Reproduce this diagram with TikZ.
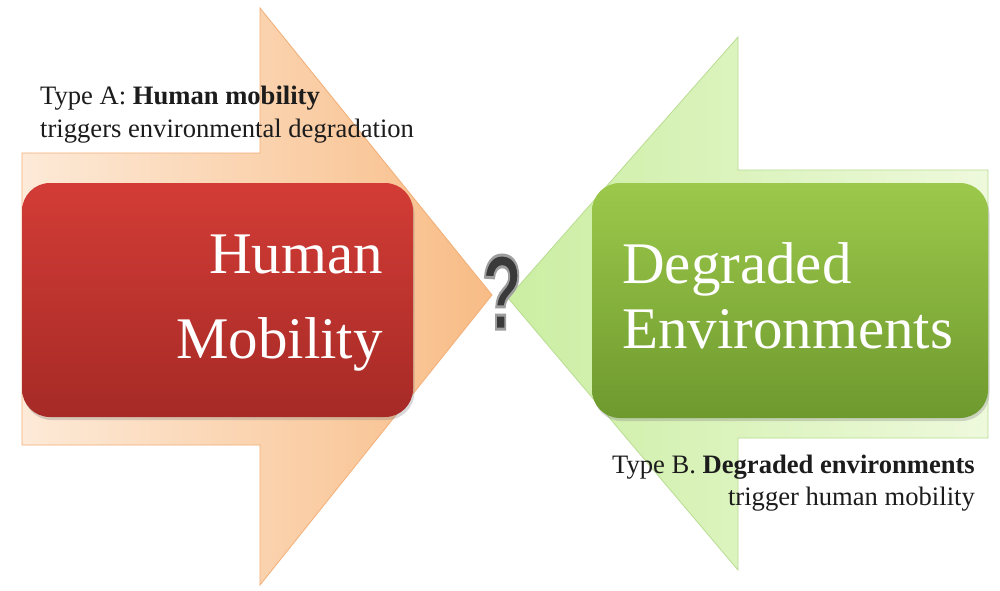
\documentclass[tikz,border=0pt]{standalone}
\usepackage{fontspec}
\setmainfont{Liberation Serif}
\newfontfamily\qfont{Liberation Sans}
\usetikzlibrary{shadows}

\definecolor{peachL}{HTML}{FDEAD8}
\definecolor{peachR}{HTML}{F8BC86}
\definecolor{peachEdge}{HTML}{F2AE76}
\definecolor{limeL}{HTML}{CBEEA2}
\definecolor{limeR}{HTML}{EEF9DC}
\definecolor{limeEdge}{HTML}{B9DC92}
\definecolor{redTop}{HTML}{D33C36}
\definecolor{redBot}{HTML}{A62A26}
\definecolor{grnTop}{HTML}{9CC94B}
\definecolor{grnBot}{HTML}{6E992E}
\definecolor{labelInk}{HTML}{1C1C1C}
\definecolor{qInk}{HTML}{3A3A3A}

% glyph drawn filled in the text colour and stroked with a grey rim
\newcommand{\rimmed}[1]{%
  \special{pdf:code 2 Tr 3 w 0.62 0.62 0.62 RG}#1\special{pdf:code 0 Tr 1 w}}

\tikzset{
  bigarrow/.style={draw=#1, line width=0.8pt},
  panel/.style={rounded corners=28pt, inner sep=0pt,
    drop shadow={opacity=0.3, shadow xshift=1.5pt, shadow yshift=-3pt}},
  paneltext/.style={text=white, inner sep=0pt,
    font=\fontsize{59}{59}\selectfont},
  caption/.style={text=labelInk, inner sep=0pt,
    font=\fontsize{26.6}{26.6}\selectfont},
  qmark/.style={inner sep=0pt, xscale=0.62,
    font=\qfont\bfseries\fontsize{106}{106}\selectfont}
}

\begin{document}
\begin{tikzpicture}[x=1pt,y=-1pt]
\useasboundingbox (0,0) rectangle (1000,590);
\fill[white] (0,0) rectangle (1000,590);

% right-pointing arrow behind the mobility panel
\draw[bigarrow=peachEdge, left color=peachL, right color=peachR]
  (22,153) -- (260,153) -- (260,8) -- (492,295) -- (260,585)
  -- (260,445) -- (22,445) -- cycle;

% left-pointing arrow behind the environment panel
\draw[bigarrow=limeEdge, left color=limeL, right color=limeR]
  (988,170) -- (738,170) -- (738,37) -- (508,298) -- (738,570)
  -- (738,438) -- (988,438) -- cycle;

% panels
\node[panel, top color=redTop, bottom color=redBot,
      minimum width=391pt, minimum height=234pt] (mob) at (217.5,300) {};
\node[panel, top color=grnTop, bottom color=grnBot,
      minimum width=396pt, minimum height=235pt] (env) at (790,300.5) {};

\node[paneltext, anchor=base east] (mob1) at (383,273) {Human};
\node[paneltext, anchor=base east] (mob2) at (383,358) {Mobility};
\node[paneltext, anchor=base west] (env1) at (622,283) {Degraded};
\node[paneltext, anchor=base west] (env2) at (622,348) {Environments};

% captions
\node[caption, anchor=base west] (ta1) at (40,104) {Type A: \textbf{Human mobility}};
\node[caption, anchor=base west] (ta2) at (40,137) {triggers environmental degradation};
\node[caption, anchor=base east] (tb1) at (975,473) {Type B. \textbf{Degraded environments}};
\node[caption, anchor=base east] (tb2) at (975,505) {trigger human mobility};

% question mark between the two arrow tips
\node[qmark, text=qInk] (q) at (502,292) {\rimmed{?}};
\end{tikzpicture}
\end{document}
